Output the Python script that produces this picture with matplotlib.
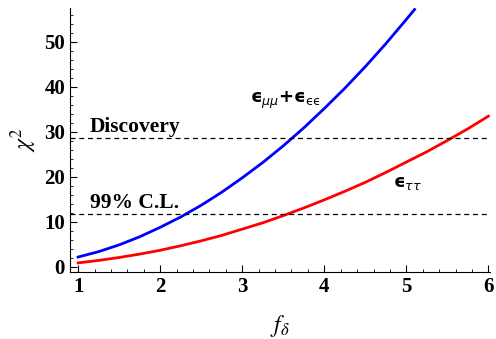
import matplotlib.pyplot as plt
from matplotlib.ticker import MultipleLocator

# f_delta grid and chi^2 values
x_blue = [1.0, 1.25, 1.5, 1.75, 2.0, 2.25, 2.5, 2.75, 3.0, 3.25, 3.5, 3.75,
          4.0, 4.25, 4.5, 4.75, 5.0, 5.1]
chi2_mm_ee = [2.2, 3.4, 4.9, 6.7, 8.8, 11.1, 13.7, 16.6, 19.8, 23.2, 26.9,
              30.9, 35.2, 39.7, 44.5, 49.6, 55.0, 57.2]
x_red = [1.0, 1.25, 1.5, 1.75, 2.0, 2.25, 2.5, 2.75, 3.0, 3.25, 3.5, 3.75,
         4.0, 4.25, 4.5, 4.75, 5.0, 5.25, 5.5, 5.75, 6.0]
chi2_tt = [0.9, 1.45, 2.1, 2.85, 3.7, 4.7, 5.8, 7.0, 8.4, 9.8, 11.4, 13.1,
           14.9, 16.8, 18.8, 21.0, 23.3, 25.6, 28.1, 30.7, 33.5]
discovery = 28.7
cl99 = 11.8

plt.rcParams['font.family'] = 'Liberation Serif'
plt.rcParams['mathtext.fontset'] = 'stix'

fig = plt.figure(figsize=(4.96, 3.39), dpi=100)
ax = fig.add_axes([0.141, 0.198, 0.847, 0.778])

ax.plot(x_blue, chi2_mm_ee, color='#0000ff', lw=2)
ax.plot(x_red, chi2_tt, color='#ff0000', lw=2)
ax.axhline(discovery, color='black', lw=0.9, ls=(0, (4, 3)))
ax.axhline(cl99, color='black', lw=0.9, ls=(0, (4, 3)))

ax.text(1.14, discovery + 1.2, 'Discovery', fontsize=15.5, fontweight='bold')
ax.text(1.14, cl99 + 1.2, '99% C.L.', fontsize=15.5, fontweight='bold')
ax.text(3.1, 37, '\u03f5$_{\\mu\\mu}$+\u03f5$_{\\mathrm{\u03f5\u03f5}}$',
        fontsize=13, va='center', family='DejaVu Sans', fontweight='bold',
        math_fontfamily='dejavusans')
ax.text(4.84, 18.7, '\u03f5$_{\\tau\\tau}$', fontsize=13, va='center',
        family='DejaVu Sans', fontweight='bold', math_fontfamily='dejavusans')

ax.set_xlim(0.9, 6.02)
ax.set_ylim(-1.1, 57.5)
ax.xaxis.set_major_locator(MultipleLocator(1))
ax.xaxis.set_minor_locator(MultipleLocator(0.2))
ax.yaxis.set_major_locator(MultipleLocator(10))
ax.yaxis.set_minor_locator(MultipleLocator(2))
ax.tick_params(which='both', direction='in', labelsize=15)
ax.tick_params(which='major', length=5)
ax.tick_params(which='minor', length=2.5)
for lab in ax.get_xticklabels() + ax.get_yticklabels():
    lab.set_fontweight('bold')
ax.spines['top'].set_visible(False)
ax.spines['right'].set_visible(False)

ax.set_xlabel(r'$f_\delta$', fontsize=17, labelpad=12)
ax.set_ylabel(r'$\chi^2$', fontsize=17, labelpad=4)

fig.savefig('out.png', dpi=100)
